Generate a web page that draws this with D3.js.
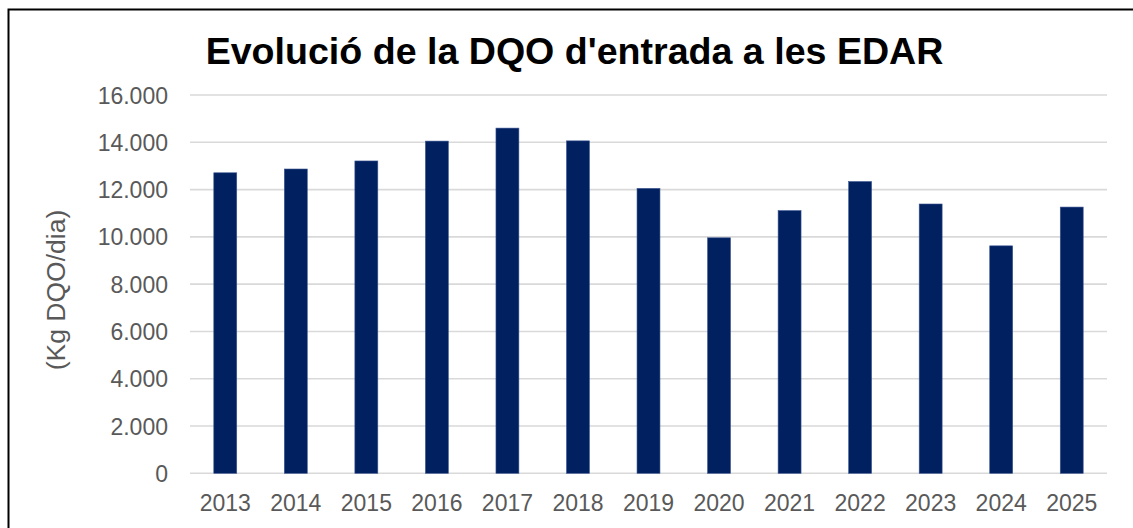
<!DOCTYPE html>
<html>
<head>
<meta charset="utf-8">
<script src="https://cdn.jsdelivr.net/npm/d3@7"></script>
<style>
  html, body { margin: 0; padding: 0; background: #fff; }
  svg { display: block; }
</style>
</head>
<body>
<script>
const years = ["2013","2014","2015","2016","2017","2018","2019","2020","2021","2022","2023","2024","2025"];
const dqoValues = [12710, 12870, 13210, 14050, 14600, 14060, 12050, 9960, 11110, 12340, 11390, 9620, 11260];
const yTicks = [0, 2000, 4000, 6000, 8000, 10000, 12000, 14000, 16000];
const yTickLabels = ["0", "2.000", "4.000", "6.000", "8.000", "10.000", "12.000", "14.000", "16.000"];
const titleText = "Evolució de la DQO d'entrada a les EDAR";
const yAxisTitle = "(Kg DQO/dia)";

const W = 1133, H = 528;
const svg = d3.select("body").append("svg").attr("width", W).attr("height", H);

// chart frame
svg.append("rect").attr("x", 8.5).attr("y", 9.5).attr("width", W + 20).attr("height", H + 20)
  .attr("fill", "#fff").attr("stroke", "#000").attr("stroke-width", 2);

const plot = { left: 190, right: 1107, top: 95, bottom: 473.3 };

const x = d3.scaleBand().domain(years).range([plot.left, plot.right]).paddingInner(0.675).paddingOuter(0.3375);
const y = d3.scaleLinear().domain([0, 16000]).range([plot.bottom, plot.top]);

// gridlines
svg.append("g").selectAll("line").data(yTicks).join("line")
  .attr("x1", plot.left).attr("x2", plot.right)
  .attr("y1", d => y(d)).attr("y2", d => y(d))
  .attr("stroke", "#d9d9d9").attr("stroke-width", 1.6);

// bars
svg.append("g").selectAll("rect").data(dqoValues).join("rect")
  .attr("x", (d, i) => x(years[i]))
  .attr("y", d => y(d))
  .attr("width", x.bandwidth())
  .attr("height", d => y(0) - y(d))
  .attr("fill", "#002060")
  .attr("stroke", "#3b5590").attr("stroke-width", 0.6);

const font = "Liberation Sans, Arial, sans-serif";

// y axis
const yAxis = d3.axisLeft(y).tickValues(yTicks).tickFormat((d, i) => yTickLabels[i]).tickSize(0).tickPadding(0);
const gy = svg.append("g").attr("transform", `translate(168,0)`).call(yAxis);
gy.select(".domain").remove();
gy.selectAll("text").attr("font-family", font).attr("font-size", 23)
  .attr("fill", "#595959").attr("dy", "0.35em");

// x axis
const xAxis = d3.axisBottom(x).tickSize(0).tickPadding(0);
const gx = svg.append("g").attr("transform", `translate(0,${plot.bottom})`).call(xAxis);
gx.select(".domain").remove();
gx.selectAll("text").attr("font-family", font).attr("font-size", 23)
  .attr("fill", "#595959").attr("y", 37.5).attr("dy", 0);

// title
svg.append("text").attr("x", 574.5).attr("y", 64).attr("text-anchor", "middle")
  .attr("font-family", font).attr("font-weight", "bold")
  .attr("font-size", 37.6).attr("fill", "#000").text(titleText);

// y axis title
svg.append("text").attr("transform", "translate(64.5,290) rotate(-90)").attr("text-anchor", "middle")
  .attr("font-family", font).attr("font-size", 26.5)
  .attr("fill", "#595959").text(yAxisTitle);
</script>
</body>
</html>
